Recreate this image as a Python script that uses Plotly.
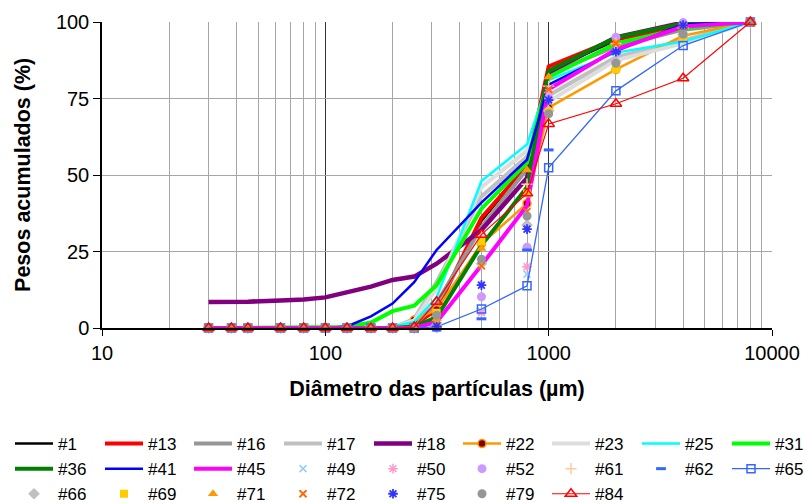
import plotly.graph_objects as go

# ---------------- data ----------------
sizes = [30, 38, 45, 63, 80, 100, 125, 160, 200, 250, 315, 500, 800, 1000, 2000, 4000, 8000]
xtick_vals = [10, 100, 1000, 10000]
xtick_text = ["10", "100", "1000", "10000"]
ytick_vals = [0, 25, 50, 75, 100]

s1 = [0, 0, 0, 0, 0, 0, 0, 0, 0, 1, 7, 35, 53, 84, 94, 99, 100]
s13 = [0, 0, 0, 0, 0, 0, 0, 0, 0, 1, 6, 36, 53, 85.5, 94.5, 98, 100]
s16 = [0, 0, 0, 0, 0, 0, 0, 0, 0, 1, 8, 33, 52, 83, 92, 97.5, 100]
s17 = [0, 0, 0, 0, 0, 0, 0, 0, 0, 3, 15, 43, 56, 76, 88.5, 94, 100]
s18 = [8.5, 8.5, 8.6, 9, 9.3, 10, 11.5, 13.5, 15.7, 16.8, 21, 32, 49, 83.5, 95, 99.8, 100]
s22 = [0, 0, 0, 0, 0, 0, 0, 0, 0, 2.6, 6, 27.5, 40.7, 72, 84.5, 95.5, 100]
s23 = [0, 0, 0, 0, 0, 0, 0, 0, 0, 2.5, 13, 46, 58, 74, 87.5, 93, 100]
s25 = [0, 0, 0, 0, 0, 0, 0, 0, 0.5, 2, 10, 48, 60, 81, 90, 93.6, 100]
s31 = [0, 0, 0, 0, 0, 0, 0.3, 1.8, 5.5, 7.3, 14, 39, 54, 82, 93, 98, 100]
s36 = [0, 0, 0, 0, 0, 0, 0, 0, 0, 0.5, 3.5, 27, 46, 84, 95, 99.5, 100]
s41 = [0, 0, 0, 0, 0, 0, 0.5, 3.8, 8, 15, 25.5, 41, 55, 79.5, 90.5, 99.3, 100]
s45 = [0, 0, 0, 0, 0, 0, 0, 0, 0, 0, 2, 20.5, 40, 78, 91, 98.5, 100]
s49 = [0, 0, 0, 0, 0, 0, 0, 0, 0, 0, 0, 5.5, 17.6, 76, 92, 99, 100]
s50 = [0, 0, 0, 0, 0, 0, 0, 0, 0, 0, 0, 5, 20, 77, 93, 99, 100]
s52 = [0, 0, 0, 0, 0, 0, 0, 0, 0, 0, 0, 10.2, 26.4, 75, 95, 99.8, 100]
s61 = [0, 0, 0, 0, 0, 0, 0, 0, 0, 0, 0.5, 30, 47, 79, 93, 98, 100]
s62 = [0, 0, 0, 0, 0, 0, 0, 0, 0, 0, 0, 3, 25.5, 58.2, 90, 98, 100]
s65 = [0, 0, 0, 0, 0, 0, 0, 0, 0, 0, 0.4, 6.2, 13.8, 52.4, 77.5, 92.3, 100]
s66 = [0, 0, 0, 0, 0, 0, 0, 0, 0, 0, 1, 21, 33.7, 71, 87, 96, 100]
s69 = [0, 0, 0, 0, 0, 0, 0, 0, 0, 0, 5, 28.2, 44, 70.7, 84.6, 95.2, 100]
s71 = [0, 0, 0, 0, 0, 0, 0, 0, 0, 0, 3, 26, 51.6, 82, 93, 98.5, 100]
s72 = [0, 0, 0, 0, 0, 0, 0, 0, 0, 0, 1, 20.3, 38, 78, 93, 98.7, 100]
s75 = [0, 0, 0, 0, 0, 0, 0, 0, 0, 0, 0.5, 14, 32.3, 74.5, 90.3, 99, 100]
s79 = [0, 0, 0, 0, 0, 0, 0, 0, 0, 0, 4.2, 22.5, 36.6, 70, 86.5, 96, 100]
s84 = [0, 0, 0, 0, 0, 0, 0, 0, 0, 0.3, 8.6, 30.5, 44, 66.7, 73.3, 81.6, 100]

series = [
    ("#1", s1), ("#13", s13), ("#16", s16), ("#17", s17), ("#18", s18),
    ("#22", s22), ("#23", s23), ("#25", s25), ("#31", s31),
    ("#36", s36), ("#41", s41), ("#45", s45), ("#49", s49), ("#50", s50),
    ("#52", s52), ("#61", s61), ("#62", s62), ("#65", s65),
    ("#66", s66), ("#69", s69), ("#71", s71), ("#72", s72), ("#75", s75),
    ("#79", s79), ("#84", s84),
]

# ---------------- styles ----------------
def L(color, width):
    return dict(mode="lines", line=dict(color=color, width=width))

def M(color, symbol, size=8, lw=1.5):
    return dict(mode="markers", marker=dict(color=color, symbol=symbol, size=size,
                                            line=dict(color=color, width=lw)))

styles = {
    "#1": L("#000000", 2.5),
    "#13": L("#ff0000", 4),
    "#16": L("#969696", 4),
    "#17": L("#c0c0c0", 4),
    "#18": L("#800080", 4.5),
    "#22": dict(mode="lines+markers", line=dict(color="#ff9900", width=2.5),
                marker=dict(color="#800000", symbol="circle", size=8,
                            line=dict(color="#ff9900", width=1.5))),
    "#23": L("#dddddd", 4),
    "#25": L("#00ffff", 2.5),
    "#31": L("#00ff00", 4),
    "#36": L("#008000", 4),
    "#41": L("#0000ff", 2.5),
    "#45": L("#ff00ff", 4),
    "#49": M("#99ccff", "x-thin-open", 7, 1.5),
    "#50": M("#ff99cc", "asterisk-open", 8, 1.5),
    "#52": M("#cc99ff", "circle", 9, 0),
    "#61": M("#ffcc99", "cross-thin-open", 8, 1.5),
    "#62": M("#3366ff", "line-ew-open", 7, 3),
    "#65": dict(mode="lines+markers", line=dict(color="#3366ff", width=1.3),
                marker=dict(color="#3366ff", symbol="square-open", size=8,
                            line=dict(color="#3366ff", width=1.5))),
    "#66": M("#c0c0c0", "diamond", 9, 0),
    "#69": M("#ffcc00", "square", 8, 0),
    "#71": M("#ff9900", "triangle-up", 9, 0),
    "#72": M("#ff6600", "x-thin-open", 7, 1.8),
    "#75": M("#3333ff", "asterisk-open", 8, 1.8),
    "#79": M("#969696", "circle", 9, 0),
    "#84": dict(mode="lines+markers", line=dict(color="#ff0000", width=1.2),
                marker=dict(color="#ff0000", symbol="triangle-up-open", size=10,
                            line=dict(color="#ff0000", width=1.5))),
}

FONT = "Liberation Sans, Arial, sans-serif"
fig = go.Figure()

ncols = 9
for i, (name, vals) in enumerate(series):
    col = i % ncols
    lg = "legend" if col == 0 else f"legend{col + 1}"
    fig.add_trace(go.Scatter(x=sizes, y=vals, name=name, legend=lg,
                             cliponaxis=False, **styles[name]))

# column positions of the legend (text x positions in px)
col_text_x = [58, 148, 237, 327, 417, 506, 595, 685, 775]
W, H = 805, 503
legend_top = 426
for c in range(ncols):
    key = "legend" if c == 0 else f"legend{c + 1}"
    fig.update_layout({key: dict(
        orientation="v", xref="container", yref="container",
        x=(col_text_x[c] - 48) / W, xanchor="left",
        y=1 - legend_top / H, yanchor="top",
        itemwidth=38, bgcolor="rgba(0,0,0,0)",
        font=dict(family=FONT, size=17, color="#000"),
        itemclick=False, itemdoubleclick=False,
    )})

minor_vals = [m * d for d in (10, 100, 1000) for m in range(2, 10)]

fig.update_layout(
    width=W, height=H,
    margin=dict(l=102, r=33, t=22, b=175, autoexpand=False),
    paper_bgcolor="white", plot_bgcolor="white",
    font=dict(family=FONT, color="#000"),
    showlegend=True,
    xaxis=dict(
        type="log", range=[1, 4],
        tickmode="array", tickvals=xtick_vals, ticktext=xtick_text,
        tickfont=dict(size=20),
        ticks="outside", ticklen=6, tickcolor="#000",
        showgrid=True, gridcolor="#333333", gridwidth=1.3,
        minor=dict(tickmode="array", tickvals=minor_vals, showgrid=True,
                   gridcolor="#a6a6a6", gridwidth=1, ticks=""),
        showline=True, linecolor="#000", linewidth=1.5,
        title=dict(text="<b>Diâmetro das partículas (µm)</b>",
                   font=dict(size=21.5), standoff=18),
        zeroline=False,
    ),
    yaxis=dict(
        range=[0, 100], tickmode="array", tickvals=ytick_vals,
        tickfont=dict(size=20),
        ticks="outside", ticklen=7, tickcolor="#000",
        showgrid=True, gridcolor="#a6a6a6", gridwidth=1,
        showline=True, linecolor="#000", linewidth=1.5,
        zeroline=False,
    ),
    annotations=[dict(
        text="<b>Pesos acumulados (%)</b>", textangle=-90,
        xref="paper", yref="paper", x=-0.118, y=0.5,
        xanchor="center", yanchor="middle", showarrow=False,
        font=dict(family=FONT, size=21.5, color="#000"),
    )],
)

fig.write_html("out.html", config={"displayModeBar": False},
               post_script="document.body.style.margin='0';document.body.style.padding='0';")
